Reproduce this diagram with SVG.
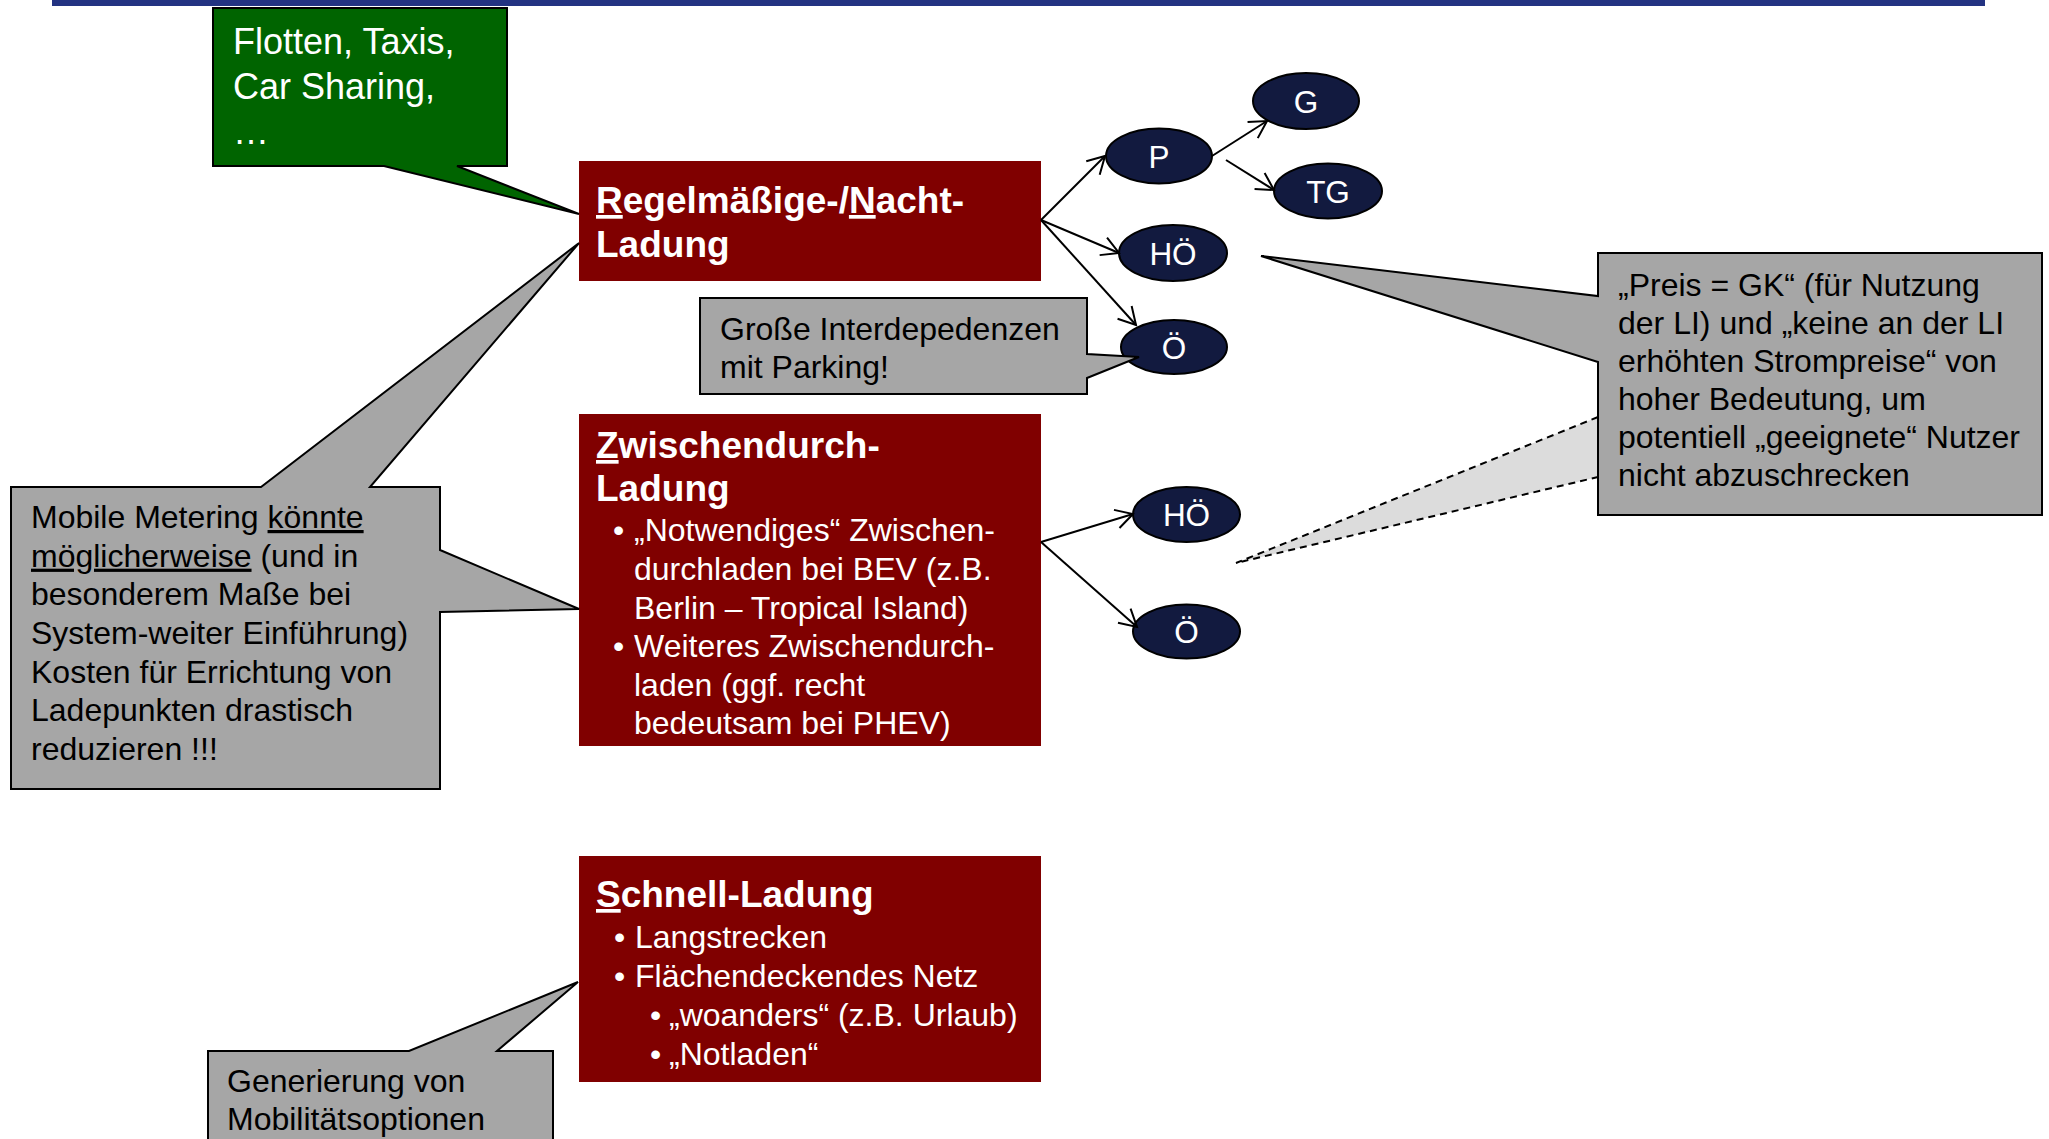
<svg xmlns="http://www.w3.org/2000/svg" width="2049" height="1139" viewBox="0 0 2049 1139">
<style>
text{font-family:"Liberation Sans",Arial,sans-serif}
.w{fill:#fff}
.k{fill:#000}
.t{font-size:37px;font-weight:bold;fill:#fff}
.b{font-size:32px;fill:#fff}
.g{font-size:32px;fill:#000}
.e{font-size:31.5px;fill:#fff;text-anchor:middle}
.red{fill:#800000}
.ell{fill:#121a3f;stroke:#000;stroke-width:2}
.cal{fill:#a6a6a6;stroke:#000;stroke-width:2;stroke-linejoin:miter}
.con{stroke:#000;stroke-width:2;fill:none;marker-end:url(#ah)}
.u{text-decoration:underline}
</style>
<defs>
<marker id="ah" markerUnits="userSpaceOnUse" viewBox="-20 -12 24 24" refX="0" refY="0" markerWidth="24" markerHeight="24" orient="auto">
<path d="M-17,-9.5 L0,0 L-17,9.5" fill="none" stroke="#000" stroke-width="2"/>
</marker>
</defs>
<rect x="52" y="0" width="1933" height="6" fill="#233382"/>

<g id="box-regel">
<rect class="red" x="579" y="161" width="462" height="120"/>
<text class="t" x="596" y="213"><tspan class="u">R</tspan>egelmäßige-/<tspan class="u">N</tspan>acht-</text>
<text class="t" x="596" y="257">Ladung</text>
</g>

<g id="box-zwischen">
<rect class="red" x="579" y="414" width="462" height="332"/>
<text class="t" x="596" y="458"><tspan class="u">Z</tspan>wischendurch-</text>
<text class="t" x="596" y="501">Ladung</text>
<text class="b" y="541"><tspan x="613">•</tspan><tspan x="634">„Notwendiges“ Zwischen-</tspan></text>
<text class="b" x="634" y="579.5">durchladen bei BEV (z.B.</text>
<text class="b" x="634" y="618.5">Berlin – Tropical Island)</text>
<text class="b" y="657"><tspan x="613">•</tspan><tspan x="634">Weiteres Zwischendurch-</tspan></text>
<text class="b" x="634" y="695.5">laden (ggf. recht</text>
<text class="b" x="634" y="734">bedeutsam bei PHEV)</text>
</g>

<g id="box-schnell">
<rect class="red" x="579" y="856" width="462" height="226"/>
<text class="t" x="596" y="907"><tspan class="u">S</tspan>chnell-Ladung</text>
<text class="b" y="948"><tspan x="614">•</tspan><tspan x="635">Langstrecken</tspan></text>
<text class="b" y="987"><tspan x="614">•</tspan><tspan x="635">Flächendeckendes Netz</tspan></text>
<text class="b" y="1026"><tspan x="650">•</tspan><tspan x="669">„woanders“ (z.B. Urlaub)</tspan></text>
<text class="b" y="1065"><tspan x="650">•</tspan><tspan x="669">„Notladen“</tspan></text>
</g>

<g id="node-P"><ellipse class="ell" cx="1159" cy="156" rx="53" ry="27.5"/><text class="e" x="1159" y="167.5">P</text></g>
<g id="node-G"><ellipse class="ell" cx="1306" cy="101" rx="53" ry="28"/><text class="e" x="1306" y="112.5">G</text></g>
<g id="node-TG"><ellipse class="ell" cx="1328" cy="191" rx="54" ry="27.5"/><text class="e" x="1328" y="202.5">TG</text></g>
<g id="node-HOE1"><ellipse class="ell" cx="1173" cy="253" rx="54" ry="28"/><text class="e" x="1173" y="264.5">HÖ</text></g>
<g id="node-OE1"><ellipse class="ell" cx="1174" cy="347" rx="53" ry="27"/><text class="e" x="1174" y="358.5">Ö</text></g>
<g id="node-HOE2"><ellipse class="ell" cx="1186.5" cy="514.5" rx="53.5" ry="27.5"/><text class="e" x="1186.5" y="526">HÖ</text></g>
<g id="node-OE2"><ellipse class="ell" cx="1186.5" cy="631.5" rx="53.5" ry="27"/><text class="e" x="1186.5" y="643">Ö</text></g>

<g id="connectors">
<line class="con" x1="1041" y1="220" x2="1105" y2="156"/>
<line class="con" x1="1041" y1="220" x2="1119" y2="253"/>
<line class="con" x1="1041" y1="220" x2="1136" y2="325"/>
<line class="con" x1="1212" y1="156" x2="1267" y2="121"/>
<line class="con" x1="1226" y1="160" x2="1274" y2="190"/>
<line class="con" x1="1041" y1="542" x2="1133" y2="514"/>
<line class="con" x1="1041" y1="542" x2="1137" y2="627"/>
</g>

<g id="callout-flotten">
<path d="M213,8 H507 V166 H457 L579,214 L384,166 H213 Z" fill="#006400" stroke="#000" stroke-width="2"/>
<text class="w" font-size="36" x="233" y="54">Flotten, Taxis,</text>
<text class="w" font-size="36" x="233" y="99">Car Sharing,</text>
<text class="w" font-size="36" x="233" y="144">…</text>
</g>

<g id="callout-metering">
<path class="cal" d="M11,487 H261 L579,243 L370,487 H440 V550 L579,609 L440,612 V789 H11 Z"/>
<text class="g" x="31" y="528">Mobile Metering <tspan class="u">könnte</tspan></text>
<text class="g" x="31" y="566.7"><tspan class="u">möglicherweise</tspan> (und in</text>
<text class="g" x="31" y="605.3">besonderem Maße bei</text>
<text class="g" x="31" y="644">System-weiter Einführung)</text>
<text class="g" x="31" y="682.7">Kosten für Errichtung von</text>
<text class="g" x="31" y="721.3">Ladepunkten drastisch</text>
<text class="g" x="31" y="760">reduzieren !!!</text>
</g>

<g id="callout-parking">
<path class="cal" d="M700,298 H1087 V354 L1139,357 L1087,378 V394 H700 Z"/>
<text class="g" x="720" y="340">Große Interdepedenzen</text>
<text class="g" x="720" y="378">mit Parking!</text>
</g>

<g id="callout-preis">
<path d="M1598,417 L1236,563 L1598,477 Z" fill="#dcdcdc" stroke="none"/>
<path d="M1598,417 L1236,563 L1598,477" fill="none" stroke="#000" stroke-width="2" stroke-dasharray="7,5"/>
<path class="cal" d="M1598,253 H2042 V515 H1598 V362 L1261,256 L1598,296 Z"/>
<text class="g" x="1618" y="296">„Preis = GK“ (für Nutzung</text>
<text class="g" x="1618" y="334">der LI) und „keine an der LI</text>
<text class="g" x="1618" y="372">erhöhten Strompreise“ von</text>
<text class="g" x="1618" y="410">hoher Bedeutung, um</text>
<text class="g" x="1618" y="448">potentiell „geeignete“ Nutzer</text>
<text class="g" x="1618" y="486">nicht abzuschrecken</text>
</g>

<g id="callout-mobilitaet">
<path class="cal" d="M208,1051 H409 L578,982 L497,1051 H553 V1150 H208 Z"/>
<text class="g" x="227" y="1091.5">Generierung von</text>
<text class="g" x="227" y="1129.5">Mobilitätsoptionen</text>
</g>
</svg>
